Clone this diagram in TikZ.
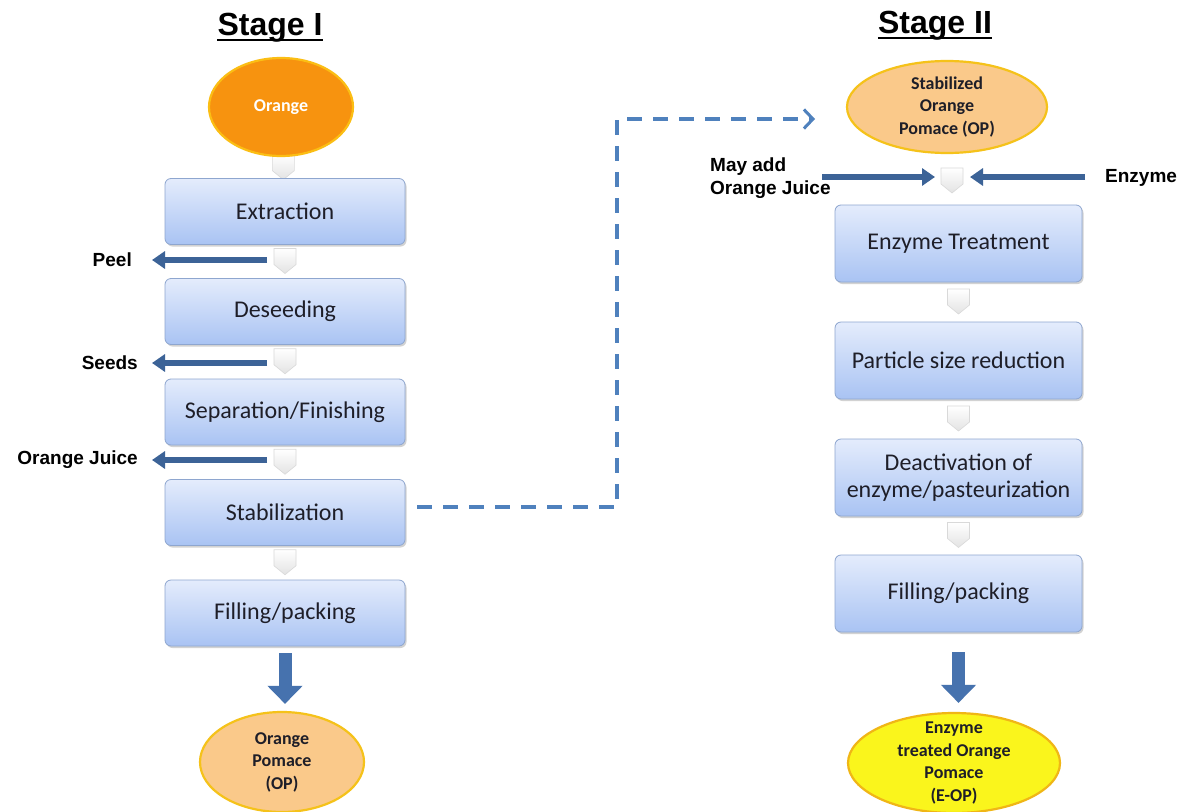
\documentclass[tikz,border=0pt]{standalone}
\usepackage{fontspec}
\setmainfont{Carlito}
\newfontfamily\lab{Liberation Sans}
\usetikzlibrary{arrows.meta,shapes.geometric,shadows,calc}
\definecolor{boxtop}{HTML}{E4ECFC}
\definecolor{boxbot}{HTML}{A9C3F3}
\definecolor{boxline}{HTML}{8EA6CF}
\definecolor{txt}{HTML}{1E1E28}
\definecolor{arrblue}{HTML}{3C6397}
\definecolor{dashblue}{HTML}{4F81BD}
\definecolor{bigblue}{HTML}{4672AE}
\definecolor{orangeF}{HTML}{F7930F}
\definecolor{orangeD}{HTML}{FBBE14}
\definecolor{pomF}{HTML}{FAC98A}
\definecolor{pomD}{HTML}{F5C21A}
\definecolor{yelF}{HTML}{FAF51C}
\definecolor{yelD}{HTML}{F0B616}
\begin{document}
\begin{tikzpicture}[x=1pt,y=-1pt,
  stepbox/.style={draw=boxline, line width=0.8pt, rounded corners=6pt,
    top color=boxtop, bottom color=boxbot, text=txt,
    font=\fontsize{24}{27}\selectfont, align=center, inner sep=0pt,
    drop shadow={shadow xshift=1.5pt, shadow yshift=-2pt, opacity=0.35, fill=gray}},
  lbox/.style={stepbox, minimum width=240pt, minimum height=66pt},
  rbox/.style={stepbox, minimum width=247pt, minimum height=77pt},
  ell/.style={ellipse, line width=2.2pt, inner sep=0pt},
  ellt/.style={font=\bfseries\fontsize{18}{22.5}\selectfont, align=center, text=txt},
  lbl/.style={font=\lab\bfseries\fontsize{19}{23}\selectfont, text=black, inner sep=0pt},
  ttl/.style={font=\lab\bfseries\fontsize{32}{36}\selectfont, text=black, inner sep=0pt, anchor=base},
  side/.style={draw=arrblue, line width=6pt, -{Triangle[length=13pt,width=17pt]}},
  bigarrow/.style={draw=bigblue, line width=13pt, -{Triangle[length=18pt,width=34pt]}},
  dashline/.style={draw=dashblue, line width=3.4pt, dash pattern=on 15pt off 11pt,
    -{Straight Barb[length=9pt,width=19pt,line width=3pt]}},
  chev/.pic={\path[draw=gray!30, line width=0.6pt, top color=white, bottom color=gray!22]
    (-11,-13) -- (11,-13) -- (11,3) -- (0,12) -- (-11,3) -- cycle;}
]
\useasboundingbox (0,0) rectangle (1188,811);
\fill[white] (0,0) rectangle (1188,811);

% titles
\node[ttl] (t1) at (270,35) {Stage I};
\draw[line width=2.6pt] ([yshift=-5pt]t1.base west) -- ([yshift=-5pt]t1.base east);
\node[ttl] (t2) at (935,33) {Stage II};
\draw[line width=2.6pt] ([yshift=-5pt]t2.base west) -- ([yshift=-5pt]t2.base east);

% left column positions
\coordinate (pOrange) at (281,107);
\coordinate (pExt) at (285,211.5);
\coordinate (pDes) at (285,311.5);
\coordinate (pSep) at (285,412);
\coordinate (pStab) at (285,512.5);
\coordinate (pFillA) at (285,613);
% right column positions
\coordinate (pSop) at (947,107);
\coordinate (mg) at (952,181);
\coordinate (pEnz) at (958.5,243.5);
\coordinate (pPsr) at (958.5,360.5);
\coordinate (pDeact) at (958.5,477.5);
\coordinate (pFillB) at (958.5,593.5);

% chevrons (behind)
\path (pOrange) -- (pExt) pic[pos=0.58] {chev};
\path (pExt) -- (pDes) pic[pos=0.5] {chev};
\path (pDes) -- (pSep) pic[pos=0.5] {chev};
\path (pSep) -- (pStab) pic[pos=0.5] {chev};
\path (pStab) -- (pFillA) pic[pos=0.5] {chev};
\pic at (mg) {chev};
\path (pEnz) -- (pPsr) pic[pos=0.5] {chev};
\path (pPsr) -- (pDeact) pic[pos=0.5] {chev};
\path (pDeact) -- (pFillB) pic[pos=0.5] {chev};

% ellipses
\node[ell, fill=orangeF, draw=orangeD, minimum width=144pt, minimum height=98pt,
  label={[ellt, text=white]center:Orange}] (orange) at (pOrange) {};
\node[ell, fill=pomF, draw=pomD, minimum width=200pt, minimum height=92pt,
  label={[ellt]center:{Stabilized\\Orange\\Pomace (OP)}}] (sop) at (pSop) {};
\node[ell, fill=pomF, draw=pomD, minimum width=164pt, minimum height=100pt,
  label={[ellt]center:{Orange\\Pomace\\(OP)}}] (opA) at (282,762) {};
\node[ell, fill=yelF, draw=yelD, minimum width=212pt, minimum height=100pt,
  label={[ellt]center:{Enzyme\\treated Orange\\Pomace\\(E-OP)}}] (eop) at (954,763) {};

% left boxes
\node[lbox] (ext) at (pExt) {Extraction};
\node[lbox] (des) at (pDes) {Deseeding};
\node[lbox] (sep) at (pSep) {Separation/Finishing};
\node[lbox] (stab) at (pStab) {Stabilization};
\node[lbox] (fillA) at (pFillA) {Filling/packing};

% right boxes
\node[rbox] (enz) at (pEnz) {Enzyme Treatment};
\node[rbox] (psr) at (pPsr) {Particle size reduction};
\node[rbox] (deact) at (pDeact) {Deactivation of\\enzyme/pasteurization};
\node[rbox] (fillB) at (pFillB) {Filling/packing};

% side outputs
\node[lbl, anchor=east] (peel) at (132,260) {Peel};
\node[lbl, anchor=east] (seeds) at (138,363) {Seeds};
\node[lbl, anchor=east] (oj) at (138,460) {Orange Juice};
\coordinate (sPeel) at (267,260);
\coordinate (sSeeds) at (267,363);
\coordinate (sOj) at (267,460);
\draw[side, shorten >=20pt] (sPeel) -- (peel.east);
\draw[side, shorten >=14pt] (sSeeds) -- (seeds.east);
\draw[side, shorten >=14pt] (sOj) -- (oj.east);

% inputs to stage II
\node[lbl, anchor=west, align=left] (may) at (710,178) {May add\\Orange Juice};
\node[lbl, anchor=west] (enzl) at (1105,178) {Enzyme};
\coordinate (sMay) at (822,177);
\coordinate (sEnz) at (1085,177);
\draw[side, shorten >=17pt] (sMay) -- (sMay -| mg);
\draw[side, shorten >=18pt] (sEnz) -- (sEnz -| mg);

% big output arrows
\draw[bigarrow, shorten <=7pt, shorten >=7pt] (fillA.south) -- (fillA.south |- opA.north);
\draw[bigarrow, shorten <=20pt, shorten >=9pt] (fillB.south) -- (fillB.south |- eop.north);

% dashed transfer
\coordinate (dcorner) at (617,119);
\coordinate (dend) at (815,119);
\draw[dashline] ([xshift=12pt,yshift=5.5pt]stab.east) -| (dcorner) -- (dend);
\end{tikzpicture}
\end{document}
